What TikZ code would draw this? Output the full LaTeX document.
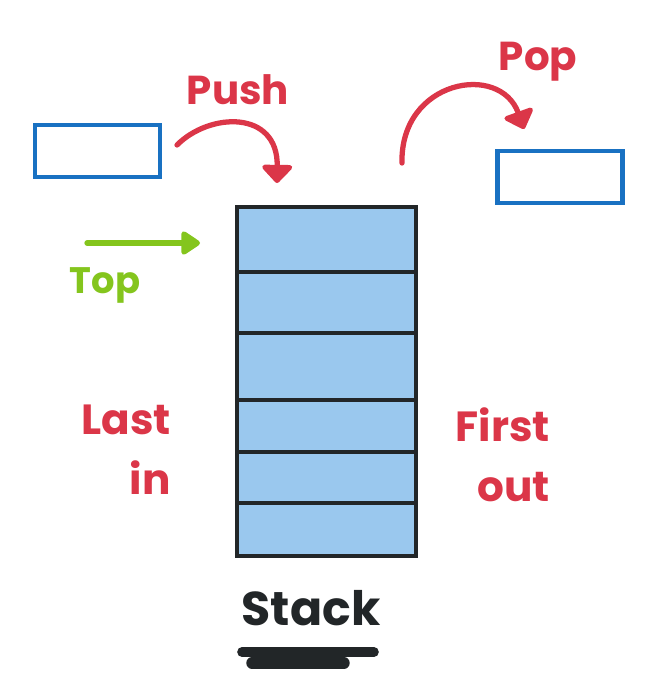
\documentclass[tikz,border=0pt]{standalone}
\usepackage{fontspec}
\setmainfont{Poppins}
\usetikzlibrary{arrows.meta, positioning}

\definecolor{boxblue}{RGB}{25,113,194}
\definecolor{cellfill}{RGB}{154,200,238}
\definecolor{inkred}{RGB}{219,54,72}
\definecolor{inkgreen}{RGB}{132,197,29}
\definecolor{inkdark}{RGB}{34,38,40}

\begin{document}
\begin{tikzpicture}[x=0.02cm, y=-0.02cm,
        cell/.style={draw=inkdark, fill=cellfill, line width=2.2pt,
                     minimum width=179*0.02cm, inner sep=0pt},
        item/.style={draw=boxblue, line width=2.8pt, minimum width=125*0.02cm,
                     minimum height=52*0.02cm, inner sep=0pt},
        word/.style={text=inkred, font=\fontsize{23}{26}\selectfont\bfseries, align=right},
        redarr/.style={inkred, line width=3pt, line cap=round,
                       -{Triangle[length=11pt, width=20pt, round]}},
        greenarr/.style={inkgreen, line width=3pt, line cap=round,
                         -{Triangle[length=12pt, width=15pt, round]}}
    ]
        \useasboundingbox (0,0) rectangle (650,696);

        % the stack, top to bottom
        \node[cell, minimum height=65*0.02cm] (cell1) at (326.5,239.5) {};
        \node[cell, minimum height=61*0.02cm] (cell2) at (326.5,302.5) {};
        \node[cell, minimum height=67*0.02cm] (cell3) at (326.5,366.5) {};
        \node[cell, minimum height=52*0.02cm] (cell4) at (326.5,426) {};
        \node[cell, minimum height=51*0.02cm] (cell5) at (326.5,477.5) {};
        \node[cell, minimum height=53*0.02cm] (cell6) at (326.5,529.5) {};

        % items going in and out
        \node[item] (newitem) at (97.5,151) {};
        \node[item] (olditem) at (560,177) {};

        \node[word] (push) at (238,90) {Push};
        \node[word] (pop) at (538,62) {Pop};
        \node[word, text=inkgreen, font=\fontsize{21}{24}\selectfont\bfseries] (top) at (105,285) {Top};
        \node[word, font=\fontsize{24}{34}\selectfont\bfseries] (lastin) at (126,450) {Last\\in};
        \node[word, font=\fontsize{24}{34}\selectfont\bfseries] (firstout) at (503,455) {First\\out};
        \node[text=inkdark, font=\fontsize{27}{30}\selectfont\bfseries] (stacklbl) at (311,608) {Stack};

        \coordinate (pushstart) at (177,145);
        \coordinate (pushend) at (277,183);
        \coordinate (popstart) at (402,163);
        \coordinate (popend) at (524,129);
        \coordinate (topstart) at (87,243);
        \coordinate (topend) at (200,243);

        \draw[redarr] (pushstart) .. controls (210,112) and (278,110) .. (pushend);
        \draw[redarr] (popstart) .. controls (400,80) and (500,62) .. (popend);
        \draw[greenarr] (topstart) -- (topend);

        % underline
        \draw[inkdark, line width=5.5pt, line cap=round] (242,652) -- (374,652);
        \draw[inkdark, line width=6.5pt, line cap=round] (252,663) -- (344,663);
    \end{tikzpicture}
\end{document}
